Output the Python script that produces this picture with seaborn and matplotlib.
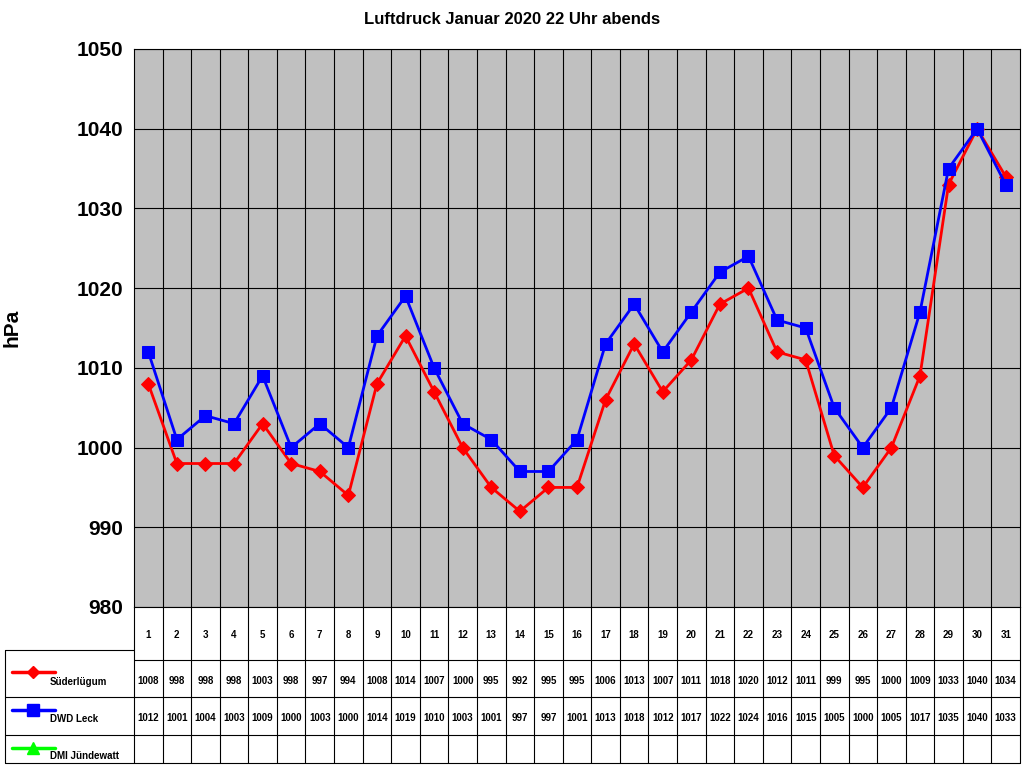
import matplotlib
matplotlib.use("Agg")
import matplotlib.pyplot as plt
import seaborn as sns
import pandas as pd
import numpy as np

days = list(range(1, 32))
suederluegum = [1008,998,998,998,1003,998,997,994,1008,1014,1007,1000,995,992,995,995,1006,1013,1007,1011,1018,1020,1012,1011,999,995,1000,1009,1033,1040,1034]
dwd_leck = [1012,1001,1004,1003,1009,1000,1003,1000,1014,1019,1010,1003,1001,997,997,1001,1013,1018,1012,1017,1022,1024,1016,1015,1005,1000,1005,1017,1035,1040,1033]
series_names = ["Süderlügum", "DWD Leck", "DMI Jündewatt"]
yticks = [980, 990, 1000, 1010, 1020, 1030, 1040, 1050]

sns.set_style("white")
plt.rcParams['font.family'] = ['Liberation Sans', 'DejaVu Sans']
plt.rcParams['text.color'] = 'black'
plt.rcParams['axes.labelcolor'] = 'black'
plt.rcParams['ytick.color'] = 'black'

W, H = 1024, 768
fig = plt.figure(figsize=(10.24, 7.68), dpi=100)
L, R, T, B = 134, 1020, 49, 607
ax = fig.add_axes([L/W, 1-B/H, (R-L)/W, (B-T)/H])
ax.set_facecolor("#C0C0C0")

df = pd.DataFrame({"day": days * 2, "p": suederluegum + dwd_leck,
                   "s": [series_names[0]]*31 + [series_names[1]]*31})
sns.lineplot(data=df[df.s == series_names[0]], x="day", y="p", color="#FF0000", lw=2,
             marker="D", markersize=7, markeredgecolor="#FF0000", ax=ax, legend=False)
sns.lineplot(data=df[df.s == series_names[1]], x="day", y="p", color="#0000FF", lw=2,
             marker="s", markersize=8, markeredgecolor="#0000FF", ax=ax, legend=False)
ax.set_xlim(0.5, 31.5)
ax.set_ylim(980, 1050)
ax.set_yticks(yticks)
ax.set_yticklabels([str(v) for v in yticks], fontsize=15, fontweight="bold")
ax.set_xticks([])
for v in yticks:
    ax.axhline(v, color="black", lw=0.8, zorder=0.5)
for d in range(1, 31):
    ax.axvline(d + 0.5, color="black", lw=0.8, zorder=0.5)
ax.set_xlabel("")
ax.set_ylabel("hPa", fontsize=15, fontweight="bold", labelpad=40)
for s in ax.spines.values():
    s.set_color("black"); s.set_linewidth(0.8)
ax.tick_params(axis="y", length=4, color="black")
fig.text(0.5, 1-20/H, "Luftdruck Januar 2020 22 Uhr abends", ha="center", va="center",
         fontsize=12, fontweight="bold")

# data table
tx = fig.add_axes([0, 0, 1, 1])
tx.set_xlim(0, W); tx.set_ylim(H, 0); tx.axis("off")
cw = (R - L) / 31
rows_y = [660, 697, 735, 763]
k = dict(color="black", lw=0.8)
for i in range(32):
    x = L + i * cw
    tx.plot([x, x], [B, rows_y[-1]], **k)
for i in range(31):
    tx.text(L + (i + .5) * cw, 635, str(days[i]), ha="center", va="center", fontsize=7, fontweight="bold")
tx.plot([5, 5], [650, rows_y[-1]], **k)
tx.plot([5, L], [650, 650], **k)
for y in rows_y[:-1]:
    tx.plot([L, R], [y, y], **k)
for y in [697, 735]:
    tx.plot([5, L], [y, y], **k)
tx.plot([5, R], [rows_y[-1], rows_y[-1]], **k)
styles = [("#FF0000", "D", 6), ("#0000FF", "s", 8), ("#00FF00", "^", 8)]
vals = [suederluegum, dwd_leck, None]
line_y = [672, 710, 748]
text_y = [682, 719, 756]
for r, (name, (c, m, ms)) in enumerate(zip(series_names, styles)):
    tx.plot([12, 55], [line_y[r], line_y[r]], color=c, lw=2.5)
    tx.plot([33], [line_y[r]], marker=m, color=c, markersize=ms)
    tx.text(50, text_y[r], name, fontsize=7, fontweight="bold", va="center")
    if vals[r] is not None:
        for i, v in enumerate(vals[r]):
            tx.text(L + (i + .5) * cw, rows_y[r] + 21, str(v), ha="center", va="center",
                    fontsize=7, fontweight="bold")
fig.savefig("out.png", dpi=100)
